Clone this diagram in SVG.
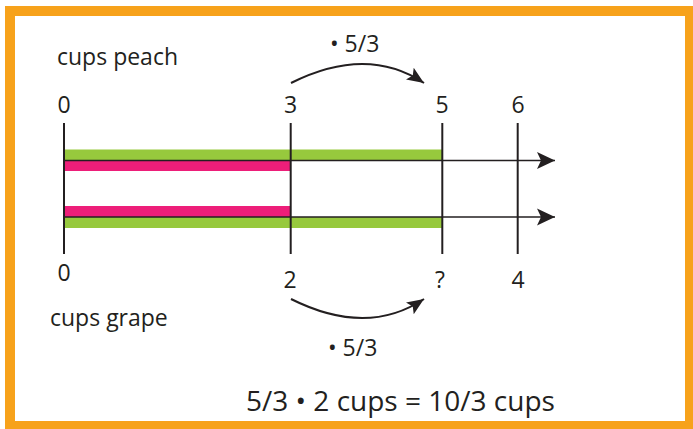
<svg xmlns="http://www.w3.org/2000/svg" width="693" height="429" viewBox="0 0 693 429">
  <style>
    .lbl { font-family: "Open Sans", "Liberation Sans", sans-serif; font-size: 23px; fill: #231f20; }
    .num { text-anchor: middle; }
    .eq { font-size: 28px; }
    .tick { stroke: #231f20; stroke-width: 2; fill: none; }
    .axis { stroke: #231f20; stroke-width: 1.5; fill: none; }
    .arc { stroke: #231f20; stroke-width: 2; fill: none; }
    .green { fill: #97c93d; }
    .pink { fill: #ed1e79; }
  </style>
  <defs>
    <marker id="axisHead" markerUnits="userSpaceOnUse" markerWidth="20" markerHeight="18" refX="18" refY="8.5" orient="auto" viewBox="0 0 20 17">
      <path d="M0,0 L18,8.5 L0,17 L4,8.5 z" fill="#231f20"/>
    </marker>
    <marker id="arcHead" markerUnits="userSpaceOnUse" markerWidth="18" markerHeight="15" refX="17" refY="7" orient="auto" viewBox="0 0 18 14">
      <path d="M0,0 L17,7 L0,14 L3.5,7 z" fill="#231f20"/>
    </marker>
  </defs>

  <!-- frame -->
  <rect x="0" y="0" width="693" height="429" fill="#ffffff"/>
  <rect id="frame" x="10" y="11" width="680" height="415" fill="none" stroke="#f7a21b" stroke-width="10"/>

  <!-- bars -->
  <g id="bars">
    <rect class="green" x="64" y="149.5" width="378" height="11"/>
    <rect class="pink" x="64" y="160.5" width="226" height="10.5"/>
    <rect class="pink" x="64" y="206" width="226" height="11"/>
    <rect class="green" x="64" y="217" width="378" height="11"/>
  </g>

  <!-- number lines and ticks -->
  <g id="connectors">
    <line class="axis" x1="64" y1="160.5" x2="555" y2="160.5" marker-end="url(#axisHead)"/>
    <line class="axis" x1="64" y1="217" x2="555" y2="217" marker-end="url(#axisHead)"/>
    <line class="tick" x1="64" y1="123" x2="64" y2="254"/>
    <line class="tick" x1="290.7" y1="123" x2="290.7" y2="254"/>
    <line class="tick" x1="442.3" y1="123" x2="442.3" y2="254"/>
    <line class="tick" x1="517.7" y1="123" x2="517.7" y2="254"/>
    <path class="arc" d="M291,83 Q367,45 424,83" marker-end="url(#arcHead)"/>
    <path class="arc" d="M291,299 Q367,337 424,299" marker-end="url(#arcHead)"/>
  </g>

  <!-- peach line labels -->
  <g id="peach">
    <text class="lbl" x="57" y="65">cups peach</text>
    <text class="lbl num" x="64" y="113">0</text>
    <text class="lbl num" x="290.7" y="113">3</text>
    <text class="lbl num" x="442" y="113">5</text>
    <text class="lbl num" x="518" y="113">6</text>
    <text class="lbl" x="330" y="52">• 5/3</text>
  </g>

  <!-- grape line labels -->
  <g id="grape">
    <text class="lbl" x="50" y="326">cups grape</text>
    <text class="lbl num" x="64" y="281">0</text>
    <text class="lbl num" x="290" y="288">2</text>
    <text class="lbl num" x="440" y="288">?</text>
    <text class="lbl num" x="518" y="288">4</text>
    <text class="lbl" x="328" y="356">• 5/3</text>
  </g>

  <!-- result -->
  <g id="equation">
    <text class="lbl eq" x="246" y="411">5/3 • 2 cups = 10/3 cups</text>
  </g>
</svg>
